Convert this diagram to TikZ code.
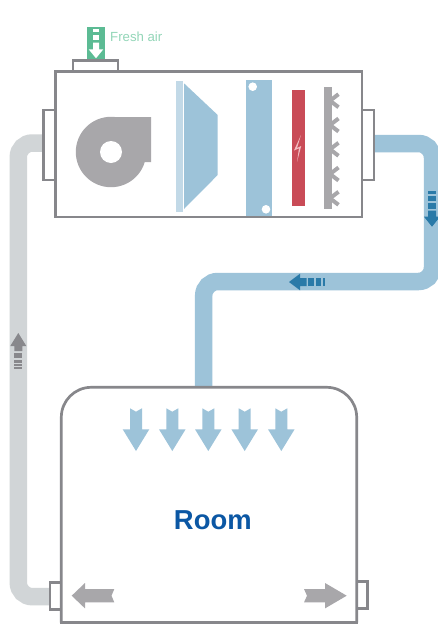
\documentclass[tikz,border=0pt]{standalone}
\usepackage{fontspec}
\setmainfont{Liberation Sans}
\definecolor{frame}{HTML}{87878B}
\definecolor{ductblue}{HTML}{9DC3D9}
\definecolor{stripblue}{HTML}{C2D9E7}
\definecolor{darkblue}{HTML}{2A7AA8}
\definecolor{ductgrey}{HTML}{D1D5D7}
\definecolor{arrowgrey}{HTML}{88888C}
\definecolor{fangrey}{HTML}{A8A7AA}
\definecolor{freshgreen}{HTML}{5CBB94}
\definecolor{freshtext}{HTML}{93D6B8}
\definecolor{heatred}{HTML}{C94B57}
\definecolor{boltpink}{HTML}{F2BCC1}
\definecolor{roomblue}{HTML}{0B57A4}
\tikzset{
  x=1pt,y=-1pt,
  frameline/.style={draw=frame,line width=2.7pt},
  collar/.style={frameline,fill=white},
  duct/.style={line width=17.5pt,rounded corners=14pt},
  prong/.style={draw=fangrey,line width=4pt},
}
\newcommand{\downblue}[1]{%
  \fill[ductblue] (#1-6,408.3) -- (#1,411.7) -- (#1+6,408.3) -- (#1+6,429.3) -- (#1+13.3,429.3) -- (#1,451) -- (#1-13.3,429.3) -- (#1-6,429.3) -- cycle;}
\begin{document}
\begin{tikzpicture}
\useasboundingbox (0,0) rectangle (438,624);
\fill[white] (0,0) rectangle (438,624);
\coordinate (retA) at (49.7,143);
\coordinate (retB) at (18.3,143);
\coordinate (retC) at (18.3,596.7);
\coordinate (retD) at (55,596.7);
\coordinate (supA) at (368,143.5);
\coordinate (supB) at (432.5,143.5);
\coordinate (supC) at (432.5,281.5);
\coordinate (supD) at (203.7,281.5);
\coordinate (supE) at (203.7,387);
% ducts
\begin{scope}
\clip (0,0) rectangle (438,624);
\draw[duct,ductgrey] (retA) -- (retB) -- (retC) -- (retD);
\draw[duct,ductblue] (supA) -- (supB) -- (supC) -- (supD) -- (supE);
\end{scope}
% fresh air
\fill[freshgreen] (86.5,27) rectangle (105,59);
\fill[white] (93,29.3) rectangle (99,32.3);
\fill[white] (93,35) rectangle (99,40);
\fill[white] (93,42.7) -- (99,42.7) -- (99,49.3) -- (103.3,49.3) -- (96,58.3) -- (88.7,49.3) -- (93,49.3) -- cycle;
\node[anchor=base west,inner sep=0pt,text=freshtext,font=\fontsize{13.2}{15}\selectfont] (fresh) at (110,41.5) {Fresh air};
% air handling unit
\draw[collar] (73,71.7) rectangle (118,60.7);
\draw[collar] (43.7,110) rectangle (55.7,180);
\draw[collar] (362,110) rectangle (374,180);
\draw[frameline,fill=white] (55.7,71.7) rectangle (362,217);
% fan
\fill[fangrey] (111,152) circle[radius=35.2];
\fill[fangrey] (111,117) -- (151,117) -- (151,162) -- (145,162) -- (111,152) -- cycle;
\fill[white] (111,152) circle[radius=11];
% filter
\fill[stripblue] (176,80.7) rectangle (183.3,211.7);
\fill[ductblue] (184,83.3) -- (217.7,115) -- (217.7,175) -- (184,209) -- cycle;
% coil
\fill[ductblue] (245.7,79.7) rectangle (272,216);
\fill[white] (252.7,86.7) circle[radius=4.3];
\fill[white] (266,209.3) circle[radius=4.3];
% heater
\fill[heatred] (292,90) rectangle (305,206);
\fill[boltpink] (301,135) -- (294,150.5) -- (299,148.3) -- (297,162) -- (301.2,146) -- (297,148) -- cycle;
% filter with teeth
\fill[fangrey] (324.3,86.7) rectangle (331.7,209.3);
\foreach \ty in {100.7,125,149.3,174,198.3}{
  \draw[prong] (330,\ty) -- (338.5,\ty-6.5);
  \draw[prong] (330,\ty) -- (338.5,\ty+6.5);
}
% flow arrows on the blue duct
\begin{scope}[darkblue]
\fill (428,191) rectangle (436,194);
\fill (428,196) rectangle (436,201);
\fill (428,203) rectangle (436,209);
\fill (428,210.5) -- (436,210.5) -- (436,216.7) -- (440,216.7) -- (432,226.7) -- (424,216.7) -- (428,216.7) -- cycle;
\fill (325,278) rectangle (323,286);
\fill (321,278) rectangle (316,286);
\fill (314,278) rectangle (308,286);
\fill (306.7,278) -- (306.7,286) -- (300,286) -- (300,290.3) -- (289,282) -- (300,273.7) -- (300,278) -- cycle;
\end{scope}
% flow arrow on the grey duct
\begin{scope}[arrowgrey]
\fill (14.3,367) rectangle (22.3,369);
\fill (14.3,364.3) rectangle (22.3,366);
\fill (14.3,359.5) rectangle (22.3,363);
\fill (14.3,352.5) rectangle (22.3,358);
\fill (14.3,351) -- (22.3,351) -- (22.3,346) -- (26.3,346) -- (18.3,333) -- (10.3,346) -- (14.3,346) -- cycle;
\end{scope}
% room
\draw[collar] (50,582.3) rectangle (61.3,609.3);
\draw[collar] (356.7,581.7) rectangle (367.7,608.7);
\draw[frameline,fill=white,rounded corners=30pt] (61.3,622.5) -- (61.3,387.3) -- (356.7,387.3) -- (356.7,622.5);
\draw[frameline,line cap=rect] (61.3,622.5) -- (356.7,622.5);
\downblue{136}
\downblue{172.3}
\downblue{208.3}
\downblue{244.7}
\downblue{281.3}
\node[inner sep=0pt,anchor=base,text=roomblue,font=\fontsize{27.4}{30}\selectfont\bfseries] (room) at (212.8,529.3) {Room};
\fill[fangrey] (71.7,595.7) -- (85,583) -- (85,589) -- (114.3,589) -- (111.5,595.7) -- (114.3,602.4) -- (85,602.4) -- (85,608.4) -- cycle;
\fill[fangrey] (346.7,595.7) -- (325,583) -- (325,589) -- (304,589) -- (307,595.7) -- (304,602.4) -- (325,602.4) -- (325,608.4) -- cycle;
\end{tikzpicture}
\end{document}
